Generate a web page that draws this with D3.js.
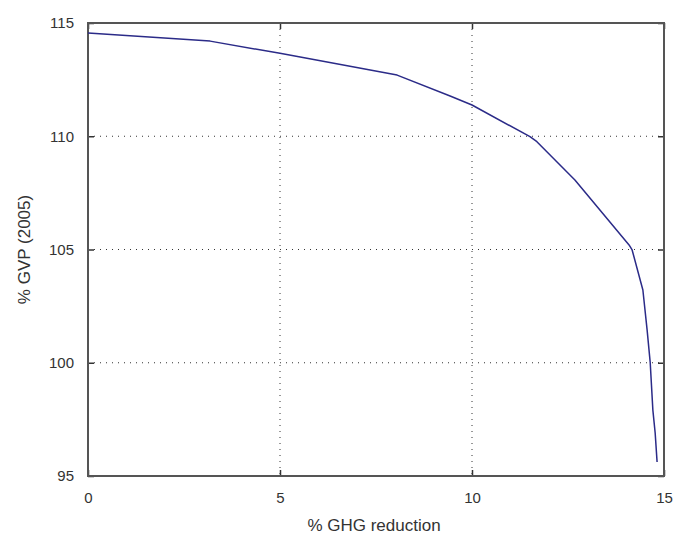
<!DOCTYPE html>
<html>
<head>
<meta charset="utf-8">
<script src="https://cdn.jsdelivr.net/npm/d3@7"></script>
<style>
  body { margin: 0; background: #fff; }
  svg { display: block; font-family: "Liberation Sans", Arial, sans-serif; }
</style>
</head>
<body>
<div id="chart"></div>
<script>
// curve
var ghgReduction = [0, 3.18, 5.0, 8.05, 9.43, 10.0, 11.51, 11.69, 12.68, 14.09, 14.17, 14.45, 14.56, 14.64, 14.71, 14.77, 14.82];
var gvpPercent = [114.56, 114.2, 113.66, 112.7, 111.78, 111.38, 109.98, 109.76, 108.07, 105.2, 104.98, 103.21, 101.45, 100.03, 97.91, 96.9, 95.62];
var xTicks = [0, 5, 10, 15];
var yTicks = [95, 100, 105, 110, 115];

var WIDTH = 674, HEIGHT = 534;
var MARGIN = { LEFT: 88, RIGHT: 10, TOP: 23, BOTTOM: 58 };

var data = ghgReduction.map((x, i) => ({ x: x, y: gvpPercent[i] }));

var xScale = d3.scaleLinear().domain([0, 15]).range([MARGIN.LEFT, WIDTH - MARGIN.RIGHT]);
var yScale = d3.scaleLinear().domain([95, 115]).range([HEIGHT - MARGIN.BOTTOM, MARGIN.TOP]);

const svg = d3.select("#chart").append("svg")
  .attr("width", WIDTH)
  .attr("height", HEIGHT);

// dotted grid (inner lines only)
svg.append("g")
  .selectAll("line")
  .data(xTicks.filter(t => t > 0 && t < 15))
  .join("line")
  .attr("x1", d => xScale(d)).attr("x2", d => xScale(d))
  .attr("y1", MARGIN.TOP).attr("y2", HEIGHT - MARGIN.BOTTOM)
  .attr("stroke", "#333")
  .attr("stroke-width", 1)
  .attr("stroke-dasharray", "1,5");

svg.append("g")
  .selectAll("line")
  .data(yTicks.filter(t => t > 95 && t < 115))
  .join("line")
  .attr("x1", MARGIN.LEFT).attr("x2", WIDTH - MARGIN.RIGHT)
  .attr("y1", d => yScale(d)).attr("y2", d => yScale(d))
  .attr("stroke", "#333")
  .attr("stroke-width", 1)
  .attr("stroke-dasharray", "1,5");

// axes with inward ticks on all four sides
const tickColor = "#333";
svg.append("g")
  .attr("transform", `translate(0,${HEIGHT - MARGIN.BOTTOM})`)
  .call(d3.axisBottom(xScale).tickValues(xTicks).tickSize(-6).tickPadding(16).tickSizeOuter(0))
  .call(g => g.select(".domain").remove());
svg.append("g")
  .attr("transform", `translate(0,${MARGIN.TOP})`)
  .call(d3.axisTop(xScale).tickValues(xTicks).tickSize(-6).tickFormat("").tickSizeOuter(0))
  .call(g => g.select(".domain").remove());
svg.append("g")
  .attr("transform", `translate(${MARGIN.LEFT},0)`)
  .call(d3.axisLeft(yScale).tickValues(yTicks).tickSize(-6).tickPadding(14).tickSizeOuter(0))
  .call(g => g.select(".domain").remove());
svg.append("g")
  .attr("transform", `translate(${WIDTH - MARGIN.RIGHT},0)`)
  .call(d3.axisRight(yScale).tickValues(yTicks).tickSize(-6).tickFormat("").tickSizeOuter(0))
  .call(g => g.select(".domain").remove());

svg.selectAll(".tick line").attr("stroke", tickColor).attr("stroke-width", 1.5);
svg.selectAll(".tick text")
  .attr("fill", "#333")
  .style("font-size", "15px")
  .style("font-family", "Liberation Sans, Arial, sans-serif");

// frame
svg.append("rect")
  .attr("x", MARGIN.LEFT)
  .attr("y", MARGIN.TOP)
  .attr("width", WIDTH - MARGIN.LEFT - MARGIN.RIGHT)
  .attr("height", HEIGHT - MARGIN.TOP - MARGIN.BOTTOM)
  .attr("fill", "none")
  .attr("stroke", "#555")
  .attr("stroke-width", 2);

var line = d3.line()
  .x(d => xScale(d.x))
  .y(d => yScale(d.y));

svg.append("path")
  .datum(data)
  .attr("fill", "none")
  .attr("stroke", "#2b2b88")
  .attr("stroke-width", 1.5)
  .attr("stroke-linejoin", "round")
  .attr("d", line);

// axis titles
svg.append("text")
  .attr("x", (MARGIN.LEFT + WIDTH - MARGIN.RIGHT) / 2 - 2)
  .attr("y", 531)
  .attr("text-anchor", "middle")
  .attr("fill", "#333")
  .style("font-size", "17px")
  .text("% GHG reduction");

svg.append("text")
  .attr("transform", `translate(30,${(MARGIN.TOP + HEIGHT - MARGIN.BOTTOM) / 2}) rotate(-90)`)
  .attr("text-anchor", "middle")
  .attr("fill", "#333")
  .style("font-size", "17px")
  .text("% GVP (2005)");
</script>
</body>
</html>
